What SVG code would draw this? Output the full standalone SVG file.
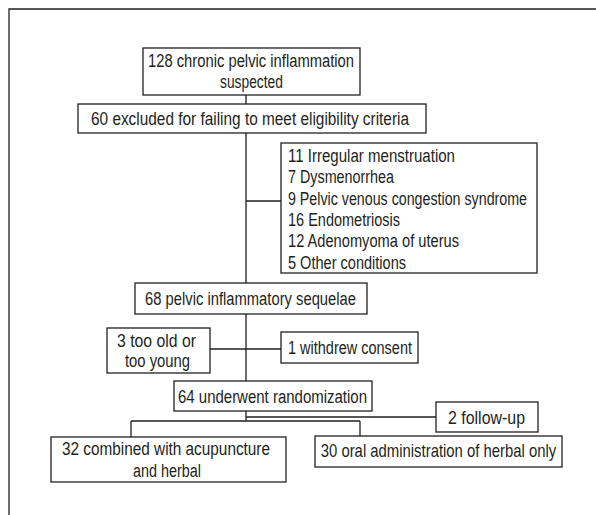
<svg xmlns="http://www.w3.org/2000/svg" width="596" height="515" viewBox="0 0 596 515">
<style>
.box{fill:#fff;stroke:#231f20;stroke-width:1.3}
.ln{fill:none;stroke:#231f20;stroke-width:1.3}
text{font-family:"Liberation Sans","DejaVu Sans",sans-serif;font-size:18px;fill:#231f20}
.c{text-anchor:middle}
</style>
<rect width="596" height="515" fill="#fff"/>
<path class="ln" d="M9,515 V9 H596"/>
<g id="connectors">
<path class="ln" d="M246,95 V104 M246,133 V283 M246,201 H281 M246,314 V381 M210,349 H281 M246,411 V421 M246,417 H436 M131,421 H360 M131,421 V437 M360,421 V436"/>
</g>
<g id="n1"><rect class="box" x="143" y="48" width="217" height="47"/>
<text class="c" x="251" y="67" textLength="206" lengthAdjust="spacingAndGlyphs">128 chronic pelvic inflammation</text>
<text class="c" x="251.5" y="88" textLength="63" lengthAdjust="spacingAndGlyphs">suspected</text></g>
<g id="n2"><rect class="box" x="78" y="104" width="348" height="29"/>
<text class="c" x="250" y="124.5" textLength="318" lengthAdjust="spacingAndGlyphs">60 excluded for failing to meet eligibility criteria</text></g>
<g id="n3"><rect class="box" x="281" y="143" width="256" height="130"/>
<text x="288" y="162" textLength="167" lengthAdjust="spacingAndGlyphs">11 Irregular menstruation</text>
<text x="288" y="183" textLength="106" lengthAdjust="spacingAndGlyphs">7 Dysmenorrhea</text>
<text x="288" y="204.5" textLength="239" lengthAdjust="spacingAndGlyphs">9 Pelvic venous congestion syndrome</text>
<text x="288" y="226" textLength="112" lengthAdjust="spacingAndGlyphs">16 Endometriosis</text>
<text x="288" y="247" textLength="171" lengthAdjust="spacingAndGlyphs">12 Adenomyoma of uterus</text>
<text x="288" y="268.5" textLength="118" lengthAdjust="spacingAndGlyphs">5 Other conditions</text></g>
<g id="n4"><rect class="box" x="135" y="283" width="232" height="31"/>
<text class="c" x="250.5" y="305" textLength="211" lengthAdjust="spacingAndGlyphs">68 pelvic inflammatory sequelae</text></g>
<g id="n5"><rect class="box" x="107" y="328" width="103" height="45"/>
<text class="c" x="156.5" y="347" textLength="79" lengthAdjust="spacingAndGlyphs">3 too old or</text>
<text class="c" x="157.5" y="367" textLength="65" lengthAdjust="spacingAndGlyphs">too young</text></g>
<g id="n6"><rect class="box" x="281" y="332" width="137" height="31"/>
<text class="c" x="350" y="354" textLength="124" lengthAdjust="spacingAndGlyphs">1 withdrew consent</text></g>
<g id="n7"><rect class="box" x="174" y="381" width="198" height="30"/>
<text class="c" x="272.5" y="403" textLength="189" lengthAdjust="spacingAndGlyphs">64 underwent randomization</text></g>
<g id="n8"><rect class="box" x="436" y="402" width="102" height="30"/>
<text class="c" x="486.5" y="424" textLength="77" lengthAdjust="spacingAndGlyphs">2 follow-up</text></g>
<g id="n9"><rect class="box" x="51" y="437" width="235" height="45"/>
<text class="c" x="166" y="455" textLength="208" lengthAdjust="spacingAndGlyphs">32 combined with acupuncture</text>
<text class="c" x="167" y="477" textLength="68" lengthAdjust="spacingAndGlyphs">and herbal</text></g>
<g id="n10"><rect class="box" x="315" y="436" width="247" height="31"/>
<text class="c" transform="translate(438.5,457) scale(0.78,1)" x="0" y="0" textLength="302" lengthAdjust="spacingAndGlyphs">30 oral administration of herbal only</text></g>
</svg>
